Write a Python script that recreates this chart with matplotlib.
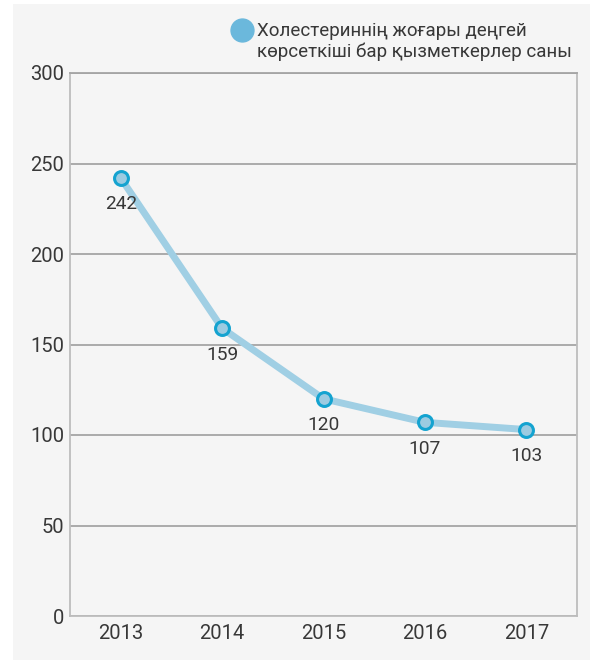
import matplotlib.pyplot as plt
from matplotlib.patches import Rectangle
from matplotlib.lines import Line2D

years = ['2013', '2014', '2015', '2016', '2017']
values = [242, 159, 120, 107, 103]
legend_label = 'Холестериннің жоғары деңгей\nкөрсеткіші бар қызметкерлер саны'

plt.rcParams['font.family'] = ['Roboto', 'DejaVu Sans']

fig = plt.figure(figsize=(5.95, 6.63), dpi=100)
fig.patch.set_facecolor('white')
# light grey panel behind everything
fig.add_artist(Rectangle((13 / 595, 3 / 663), 577 / 595, 656 / 663,
                         transform=fig.transFigure, facecolor='#f5f5f5',
                         edgecolor='none', zorder=-10))

ax = fig.add_axes([70 / 595, 47 / 663, 507 / 595, 543 / 663])
ax.set_facecolor('#f5f5f5')

x = list(range(len(years)))
ax.plot(x, values, color='#a0cfe4', lw=5, solid_capstyle='round', zorder=3)
ax.plot(x, values, ls='none', marker='o', ms=10, mfc='#9ccbe1',
        mec='#14a3d0', mew=2.2, zorder=4)
for xi, v in zip(x, values):
    ax.annotate(str(v), (xi, v), xytext=(0, -19), textcoords='offset points',
                ha='center', va='center', fontsize=13.8, color='#383838')

ax.set_xlim(-0.5, 4.5)
ax.set_ylim(0, 300)
ax.set_yticks(range(0, 301, 50))
ax.set_xticks(x)
ax.set_xticklabels(years)
ax.grid(axis='y', color='#a5a5a5', lw=1.3, zorder=1)
ax.set_axisbelow(True)
ax.tick_params(length=0, labelsize=14.5, colors='#383838', pad=4)
ax.tick_params(axis='x', pad=6)
for side in ['left', 'right', 'bottom']:
    ax.spines[side].set_color('#bdbdbd')
    ax.spines[side].set_linewidth(1.3)
ax.spines['top'].set_color('#a5a5a5')
ax.spines['top'].set_linewidth(1.3)

# legend
fig.add_artist(Line2D([242 / 595], [1 - 30 / 663], transform=fig.transFigure,
                      marker='o', ms=16.5, color='#6bb8dc', ls='none'))
fig.text(257 / 595, 1 - 41.5 / 663, legend_label, ha='left', va='center',
         fontsize=13.5, color='#383838', linespacing=1.12)

fig.savefig('out.png', dpi=100, facecolor=fig.get_facecolor())
